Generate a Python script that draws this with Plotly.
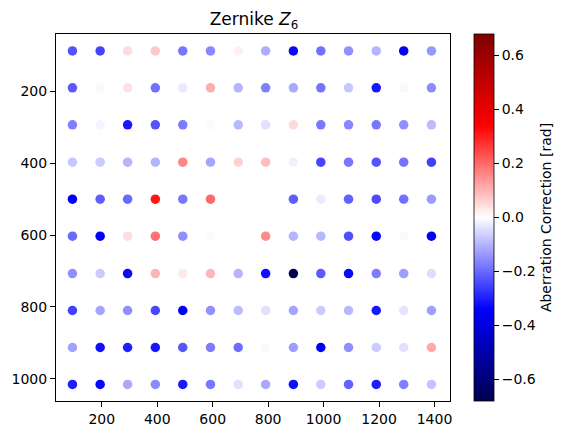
import plotly.graph_objects as go

# Grid positions (pixel coordinates of the measurement points)
x_positions = [94, 194, 293, 393, 492, 592, 692, 791, 891, 990, 1090, 1190, 1289, 1389]
y_positions = [87, 190, 293, 397, 500, 603, 707, 810, 913, 1016]

# Zernike Z6 aberration correction [rad], one list per row (top to bottom)
row_087 = [-0.23, -0.25, 0.045, 0.075, -0.18, -0.16, 0.02, -0.11, -0.33, -0.19, -0.15, -0.10, -0.36, -0.14]
row_190 = [-0.22, -0.01, 0.04, -0.19, -0.03, 0.11, -0.10, -0.17, -0.115, -0.185, -0.075, -0.31, -0.01, -0.155]
row_293 = [-0.17, -0.015, -0.31, -0.23, -0.175, 0.01, -0.095, -0.04, 0.05, -0.18, -0.16, -0.18, -0.15, -0.09]
row_397 = [-0.075, -0.07, -0.10, -0.10, 0.16, -0.12, 0.06, 0.085, -0.02, -0.25, -0.18, -0.23, -0.185, -0.255]
row_500 = [-0.35, -0.215, -0.20, 0.31, -0.18, 0.20, 0.0, 0.0, -0.215, -0.025, -0.21, -0.24, -0.19, -0.135]
row_603 = [-0.20, -0.35, 0.045, 0.19, -0.15, 0.01, 0.0, 0.155, -0.10, -0.095, -0.235, -0.33, -0.01, -0.34]
row_707 = [-0.15, -0.07, -0.33, 0.10, 0.03, 0.095, -0.10, -0.32, -0.68, -0.22, -0.33, -0.175, -0.13, -0.045]
row_810 = [-0.255, -0.12, -0.15, -0.245, -0.36, -0.145, -0.09, -0.04, -0.12, -0.07, -0.095, -0.31, -0.035, -0.13]
row_913 = [-0.125, -0.32, -0.30, -0.31, -0.225, -0.175, -0.195, -0.01, -0.13, -0.35, -0.15, -0.07, -0.04, 0.115]
row_1016 = [-0.30, -0.33, -0.115, -0.155, -0.305, -0.18, -0.04, -0.115, -0.32, -0.07, -0.21, -0.30, -0.17, -0.08]

rows = [row_087, row_190, row_293, row_397, row_500, row_603, row_707, row_810, row_913, row_1016]

xs, ys, vals = [], [], []
for yv, row in zip(y_positions, rows):
    for xv, v in zip(x_positions, row):
        xs.append(xv)
        ys.append(yv)
        vals.append(v)

vmax = max(abs(v) for v in vals)

seismic = [
    [0.0, "rgb(0,0,77)"],
    [0.25, "rgb(0,0,255)"],
    [0.5, "rgb(255,255,255)"],
    [0.75, "rgb(255,0,0)"],
    [1.0, "rgb(128,0,0)"],
]

cb_ticks = [-0.6, -0.4, -0.2, 0.0, 0.2, 0.4, 0.6]
cb_text = ["\u22120.6", "\u22120.4", "\u22120.2", "0.0", "0.2", "0.4", "0.6"]

font_family = "DejaVu Sans"

W, H = 567, 437
ML, MR, MT, MB = 56, 10, 34, 34
paper_w = W - ML - MR
plot_w = 396
dom_end = plot_w / paper_w
cb_x = (476 - ML) / paper_w

fig = go.Figure(
    go.Scatter(
        x=xs,
        y=ys,
        mode="markers",
        marker=dict(
            size=9.5,
            color=vals,
            colorscale=seismic,
            cmin=-vmax,
            cmax=vmax,
            line=dict(width=0),
            showscale=True,
            colorbar=dict(
                x=cb_x,
                xanchor="left",
                xref="paper",
                xpad=0,
                y=0.5,
                yanchor="middle",
                ypad=0,
                len=1.0,
                lenmode="fraction",
                thickness=20,
                thicknessmode="pixels",
                outlinewidth=0.8,
                outlinecolor="black",
                tickvals=cb_ticks,
                ticktext=cb_text,
                ticks="outside",
                ticklen=5,
                tickwidth=0.8,
                tickcolor="black",
                tickfont=dict(family=font_family, size=14, color="black"),
                title=dict(
                    text="Aberration Correction [rad]",
                    side="right",
                    font=dict(family=font_family, size=14, color="black"),
                ),
            ),
        ),
        hoverinfo="skip",
    )
)

fig.update_layout(
    width=W,
    height=H,
    margin=dict(l=ML, r=MR, t=MT, b=MB),
    paper_bgcolor="white",
    plot_bgcolor="white",
    font=dict(family=font_family, size=14, color="black"),
    showlegend=False,
    title=dict(
        text="Zernike <i>Z</i><sub>6</sub>",
        x=(ML + plot_w / 2) / W,
        xanchor="center",
        xref="container",
        y=1 - 19 / H,
        yref="container",
        yanchor="middle",
        font=dict(family=font_family, size=17, color="black"),
    ),
)

fig.update_xaxes(
    domain=[0, dom_end],
    range=[34.7, 1457.5],
    tickvals=[200, 400, 600, 800, 1000, 1200, 1400],
    ticks="outside",
    ticklen=5,
    tickwidth=0.8,
    tickcolor="black",
    showline=True,
    linecolor="black",
    linewidth=1,
    mirror=True,
    showgrid=False,
    zeroline=False,
)

fig.update_yaxes(
    range=[1062, 40],
    tickvals=[200, 400, 600, 800, 1000],
    ticks="outside",
    ticklen=5,
    tickwidth=0.8,
    tickcolor="black",
    showline=True,
    linecolor="black",
    linewidth=1,
    mirror=True,
    showgrid=False,
    zeroline=False,
)

fig.write_html("out.html")
